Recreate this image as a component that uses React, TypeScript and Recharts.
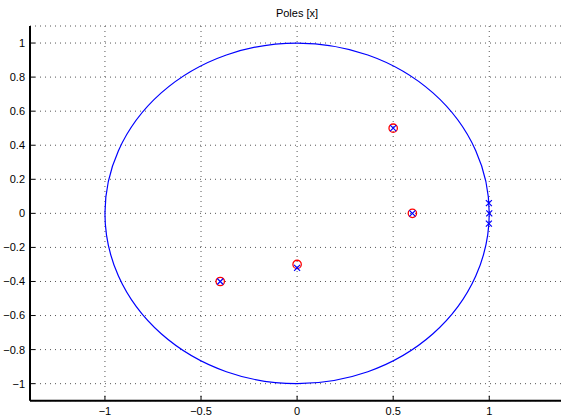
import React from "react"
import { ScatterChart, Scatter, XAxis, YAxis, CartesianGrid, ReferenceArea, ReferenceLine } from "recharts"

// axis setup
const xDomain: [number, number] = [-1.39, 1.39]
const yDomain: [number, number] = [-1.1, 1.1]
const xTicks = [-1, -0.5, 0, 0.5, 1]
const yTicks = [-1, -0.8, -0.6, -0.4, -0.2, 0, 0.2, 0.4, 0.6, 0.8, 1]

// zeros (o)
const zeroRe = [0.5, 0.6, 0, -0.4]
const zeroIm = [0.5, 0, -0.3, -0.4]

// poles (x)
const poleRe = [0.5, 0.6, 0, -0.4, 0.998, 1, 0.998]
const poleIm = [0.5, 0, -0.32, -0.4, 0.06, 0, -0.06]

const zeros = zeroRe.map((x, i) => ({ x, y: zeroIm[i] }))
const poles = poleRe.map((x, i) => ({ x, y: poleIm[i] }))

const FONT = "'Liberation Sans', Arial, Helvetica, sans-serif"
const fmt = (v: number) => String(v).replace("-", "\u2212")

const Ring = (props: any) => {
  const { cx, cy } = props
  return <circle cx={cx} cy={cy} r={4.2} fill="none" stroke="#ff0000" strokeWidth={1.3} />
}

const Cross = (props: any) => {
  const { cx, cy } = props
  const s = 3
  return (
    <path
      d={`M${cx - s},${cy - s}L${cx + s},${cy + s}M${cx - s},${cy + s}L${cx + s},${cy - s}`}
      stroke="#0000ff"
      strokeWidth={1.2}
      fill="none"
    />
  )
}

// ellipse inscribed in the [-1,1]x[-1,1] box = unit circle in data space
const UnitCircle = (props: any) => {
  const { x, y, width, height } = props
  return (
    <ellipse
      cx={x + width / 2}
      cy={y + height / 2}
      rx={width / 2}
      ry={height / 2}
      fill="none"
      stroke="#0000ff"
      strokeWidth={1.2}
    />
  )
}

const tickStyle = { fontSize: 11, fill: "#000", fontFamily: FONT }

export default function App() {
  return (
    <div
      style={{
        position: "absolute",
        left: 0,
        top: 0,
        width: 561,
        height: 416,
        overflow: "hidden",
        background: "#fff",
      }}
    >
      <div
        style={{
          position: "absolute",
          left: 197,
          width: 200,
          top: 7,
          textAlign: "center",
          fontFamily: FONT,
          fontSize: 11,
          color: "#000",
        }}
      >
        Poles [x]
      </div>
      <ScatterChart width={570} height={416} margin={{ top: 26, right: 5.8, left: 0, bottom: 0 }}>
        <CartesianGrid stroke="#555" strokeDasharray="1 4" />
        <XAxis
          type="number"
          dataKey="x"
          domain={xDomain}
          ticks={xTicks}
          allowDataOverflow
          height={15.3}
          tickFormatter={fmt}
          tick={tickStyle}
          tickSize={-5}
          tickMargin={11}
          axisLine={{ stroke: "#000", strokeWidth: 2 }}
          tickLine={{ stroke: "#000" }}
        />
        <XAxis
          xAxisId="top"
          orientation="top"
          type="number"
          dataKey="x"
          domain={xDomain}
          ticks={xTicks}
          allowDataOverflow
          height={0}
          tickFormatter={() => ""}
          tickSize={-5}
          axisLine={{ stroke: "#000", strokeWidth: 2 }}
          tickLine={{ stroke: "#000" }}
        />
        <YAxis
          type="number"
          dataKey="y"
          domain={yDomain}
          ticks={yTicks}
          allowDataOverflow
          width={30}
          tickFormatter={fmt}
          tick={tickStyle}
          tickSize={-5}
          tickMargin={10}
          axisLine={{ stroke: "#000", strokeWidth: 2 }}
          tickLine={{ stroke: "#000" }}
        />
        <ReferenceArea x1={-1} x2={1} y1={-1} y2={1} shape={<UnitCircle />} />
        <Scatter data={zeros} shape={<Ring />} isAnimationActive={false} />
        <Scatter data={poles} shape={<Cross />} isAnimationActive={false} />
      </ScatterChart>
    </div>
  )
}
